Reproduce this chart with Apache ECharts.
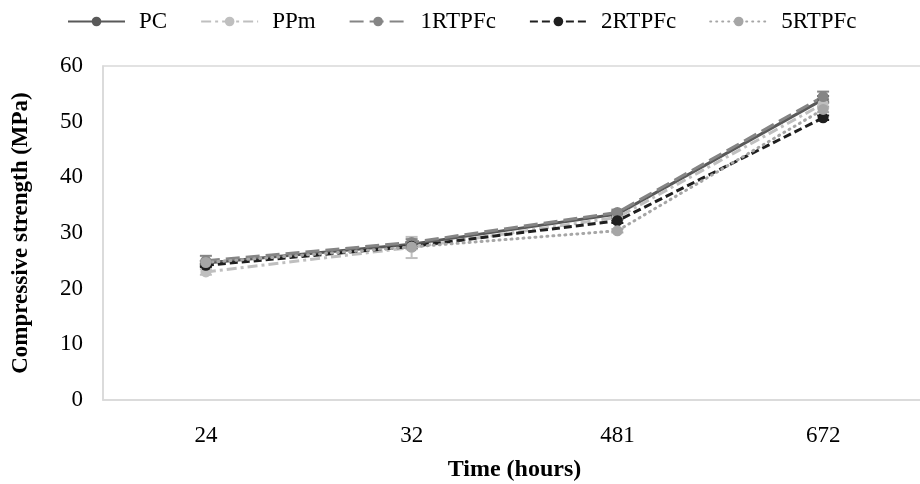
<!DOCTYPE html>
<html>
<head>
<meta charset="utf-8">
<script src="https://cdn.jsdelivr.net/npm/echarts@6/dist/echarts.min.js"></script>
<style>html,body{margin:0;padding:0;background:#fff}#c{width:920px;height:484px}</style>
</head>
<body>
<div id="c"></div>
<script>
const categories = ['24', '32', '481', '672'];
const seriesNames = ['PC', 'PPm', '1RTPFc', '2RTPFc', '5RTPFc'];
const pcValues = [24.6, 28.0, 33.4, 54.0];
const ppmValues = [23.0, 27.4, 32.8, 53.2];
const r1Values = [25.0, 28.3, 33.7, 54.5];
const r2Values = [24.2, 27.6, 32.2, 50.7];
const r5Values = [24.7, 27.5, 30.4, 52.2];
const pcErr = [0.4, 0.4, 0.5, 0.6];
const ppmErr = [0.5, 1.9, 0.5, 0.8];
const r1Err = [0.9, 0.6, 0.5, 0.9];
const r2Err = [0.3, 0.3, 0.4, 0.4];
const r5Err = [0.3, 0.4, 0.3, 0.5];
const yTicks = [0, 10, 20, 30, 40, 50, 60];

const values = [pcValues, ppmValues, r1Values, r2Values, r5Values];
const errs = [pcErr, ppmErr, r1Err, r2Err, r5Err];
const colors = ['#595959', '#bfbfbf', '#858585', '#1f1f1f', '#a6a6a6'];
const dashes = ['solid', [10, 4, 3, 4], [14, 6], [8, 4], [1, 5]];
const caps = ['butt', 'butt', 'butt', 'butt', 'round'];

const FONT = 'Liberation Serif';
const series = [];
seriesNames.forEach((name, i) => {
  series.push({
    name: name,
    type: 'line',
    data: values[i],
    symbol: 'circle',
    symbolSize: 11,
    itemStyle: { color: colors[i] },
    lineStyle: { color: colors[i], width: 3, type: dashes[i], cap: caps[i] },
    z: 3
  });
});
seriesNames.forEach((name, i) => {
  series.push({
    name: name + ' error',
    type: 'custom',
    renderItem: function (params, api) {
      const x = api.value(0), lo = api.value(1), hi = api.value(2);
      const p1 = api.coord([x, lo]);
      const p2 = api.coord([x, hi]);
      const hw = 6;
      const st = { stroke: colors[i], lineWidth: 2 };
      return {
        type: 'group',
        children: [
          { type: 'line', shape: { x1: p1[0], y1: p1[1], x2: p2[0], y2: p2[1] }, style: st },
          { type: 'line', shape: { x1: p1[0] - hw, y1: p1[1], x2: p1[0] + hw, y2: p1[1] }, style: st },
          { type: 'line', shape: { x1: p2[0] - hw, y1: p2[1], x2: p2[0] + hw, y2: p2[1] }, style: st }
        ]
      };
    },
    data: values[i].map((v, k) => [k, v - errs[i][k], v + errs[i][k]]),
    z: 1,
    silent: true
  });
});

const chart = echarts.init(document.getElementById('c'), null, { renderer: 'canvas' });
chart.setOption({
  backgroundColor: '#ffffff',
  animation: false,
  legend: {
    data: seriesNames,
    left: 62,
    top: 5,
    itemWidth: 57,
    itemHeight: 12,
    itemGap: 33,
    textStyle: { fontFamily: FONT, fontSize: 23, color: '#000', padding: [0, 0, 0, 9] }
  },
  grid: {
    left: 103, top: 66, right: -6, bottom: 84,
    outerBoundsMode: 'none',
    show: true, borderColor: '#d9d9d9', borderWidth: 1.5, containLabel: false
  },
  xAxis: {
    type: 'category',
    data: categories,
    boundaryGap: true,
    axisLine: { show: true, lineStyle: { color: '#d9d9d9', width: 1.5 } },
    axisTick: { show: false },
    axisLabel: { fontFamily: FONT, fontSize: 23, color: '#000', margin: 24 },
    name: 'Time (hours)',
    nameLocation: 'middle',
    nameGap: 58,
    nameTextStyle: { fontFamily: FONT, fontSize: 24, fontWeight: 'bold', color: '#000' }
  },
  yAxis: {
    type: 'value',
    min: yTicks[0],
    max: yTicks[yTicks.length - 1],
    interval: 10,
    axisLine: { show: true, lineStyle: { color: '#d9d9d9', width: 1.5 } },
    axisTick: { show: false },
    splitLine: { show: false },
    axisLabel: { fontFamily: FONT, fontSize: 23, color: '#000', margin: 20 },
    name: 'Compressive strength (MPa)',
    nameLocation: 'middle',
    nameGap: 70,
    nameTextStyle: { fontFamily: FONT, fontSize: 23, fontWeight: 'bold', color: '#000' }
  },
  series: series
});
</script>
</body>
</html>
